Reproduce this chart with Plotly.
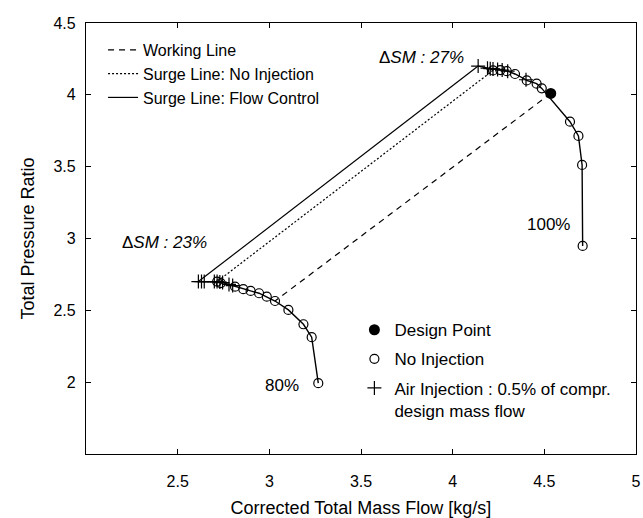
import plotly.graph_objects as go

# ---- 100 % speed line ----
inj100_x = [4.139, 4.19, 4.205, 4.22, 4.245, 4.27, 4.30, 4.40]
inj100_y = [4.200, 4.185, 4.182, 4.180, 4.177, 4.172, 4.165, 4.105]
noinj100_x = [4.22, 4.26, 4.295, 4.34, 4.404, 4.458, 4.486, 4.64, 4.686, 4.706, 4.709]
noinj100_y = [4.170, 4.172, 4.165, 4.145, 4.100, 4.078, 4.045, 3.813, 3.714, 3.512, 2.948]

# ---- 80 % speed line ----
inj80_x = [2.613, 2.63, 2.645, 2.70, 2.715, 2.73, 2.745, 2.78, 2.80]
inj80_y = [2.700, 2.700, 2.700, 2.700, 2.700, 2.697, 2.693, 2.680, 2.672]
noinj80_x = [2.715, 2.735, 2.813, 2.858, 2.898, 2.944, 2.986, 3.031, 3.104, 3.186, 3.231, 3.267]
noinj80_y = [2.700, 2.690, 2.665, 2.647, 2.635, 2.619, 2.595, 2.565, 2.503, 2.403, 2.313, 1.993]

# ---- design point ----
design_x = [4.535]
design_y = [4.010]

# ---- characteristic lines ----
working_x = [4.535, 3.031]
working_y = [4.010, 2.565]
surge_noinj_x = [4.22, 2.715]
surge_noinj_y = [4.170, 2.700]
surge_fc_x = [4.139, 2.613]
surge_fc_y = [4.200, 2.700]

x_ticks = [2.5, 3, 3.5, 4, 4.5, 5]
x_ticktext = ["2.5", "3", "3.5", "4", "4.5", "5"]
y_ticks = [2, 2.5, 3, 3.5, 4, 4.5]
y_ticktext = ["2", "2.5", "3", "3.5", "4", "4.5"]

FONT = "Liberation Sans, Arial, sans-serif"


def speedline(px, py, cx, cy):
    pts = sorted(set(zip(px, py)) | set(zip(cx, cy)))
    return [p[0] for p in pts], [p[1] for p in pts]


fig = go.Figure()

for px, py, cx, cy in [(inj100_x, inj100_y, noinj100_x, noinj100_y),
                       (inj80_x, inj80_y, noinj80_x, noinj80_y)]:
    sx, sy = speedline(px, py, cx, cy)
    fig.add_trace(go.Scatter(x=sx, y=sy, mode="lines", showlegend=False,
                             line=dict(color="black", width=1.4)))

# characteristic lines (upper legend)
fig.add_trace(go.Scatter(x=working_x, y=working_y, mode="lines", name="Working Line",
                         legend="legend", line=dict(color="black", width=1.2, dash="6px,5px")))
fig.add_trace(go.Scatter(x=surge_noinj_x, y=surge_noinj_y, mode="lines",
                         name="Surge Line: No Injection", legend="legend",
                         line=dict(color="black", width=1.2, dash="2px,2px")))
fig.add_trace(go.Scatter(x=surge_fc_x, y=surge_fc_y, mode="lines",
                         name="Surge Line: Flow Control", legend="legend",
                         line=dict(color="black", width=1.2)))

# operating points (lower legend)
fig.add_trace(go.Scatter(x=noinj100_x + noinj80_x, y=noinj100_y + noinj80_y, mode="markers",
                         name="No Injection", legend="legend2", legendgroup="b", legendrank=2,
                         marker=dict(symbol="circle-open", size=9, color="black",
                                     line=dict(width=1.2, color="black"))))
fig.add_trace(go.Scatter(x=inj100_x + inj80_x, y=inj100_y + inj80_y, mode="markers",
                         name="Air Injection : 0.5% of compr.<br>design mass flow",
                         legend="legend2", legendgroup="c", legendrank=3,
                         marker=dict(symbol="cross-thin-open", size=10, color="black",
                                     line=dict(width=1.2, color="black"))))
fig.add_trace(go.Scatter(x=design_x, y=design_y, mode="markers", name="Design Point",
                         legend="legend2", legendgroup="a", legendrank=1,
                         marker=dict(symbol="circle", size=11, color="black")))

annot = dict(showarrow=False, font=dict(family=FONT, size=17, color="black"))
fig.add_annotation(x=3.828, y=4.263, text="Δ<i>SM : 27%</i>", **annot)
fig.add_annotation(x=2.426, y=2.969, text="Δ<i>SM : 23%</i>", **annot)
fig.add_annotation(x=4.52, y=3.100, text="100%", **annot)
fig.add_annotation(x=3.069, y=1.975, text="80%", **annot)

axis_common = dict(showline=True, linecolor="black", linewidth=1.3, mirror="ticks",
                   ticks="inside", ticklen=5, tickcolor="black", tickwidth=1,
                   showgrid=False, zeroline=False, automargin=False,
                   tickfont=dict(family=FONT, size=16, color="black"))

fig.update_xaxes(range=[2, 5], tickvals=x_ticks, ticktext=x_ticktext, ticklabelstandoff=13,
                 title=dict(text="Corrected Total Mass Flow [kg/s]", standoff=16,
                            font=dict(family=FONT, size=18, color="black")), **axis_common)
fig.update_yaxes(range=[1.5, 4.5], tickvals=y_ticks, ticktext=y_ticktext, ticklabelstandoff=6,
                 title=dict(text="Total Pressure Ratio", standoff=14,
                            font=dict(family=FONT, size=18, color="black")), **axis_common)

fig.update_layout(
    width=643, height=518,
    margin=dict(l=86, r=7, t=23, b=64),
    paper_bgcolor="white", plot_bgcolor="white",
    font=dict(family=FONT, color="black"),
    legend=dict(x=0.031, y=0.977, xanchor="left", yanchor="top", bgcolor="rgba(0,0,0,0)",
                font=dict(family=FONT, size=16, color="black"), itemwidth=30,
                traceorder="normal"),
    legend2=dict(x=0.488, y=0.329, xanchor="left", yanchor="top", bgcolor="rgba(0,0,0,0)",
                 font=dict(family=FONT, size=17, color="black"), itemwidth=30,
                 traceorder="grouped", tracegroupgap=4, valign="top"),
)

fig.write_html("out.html")
